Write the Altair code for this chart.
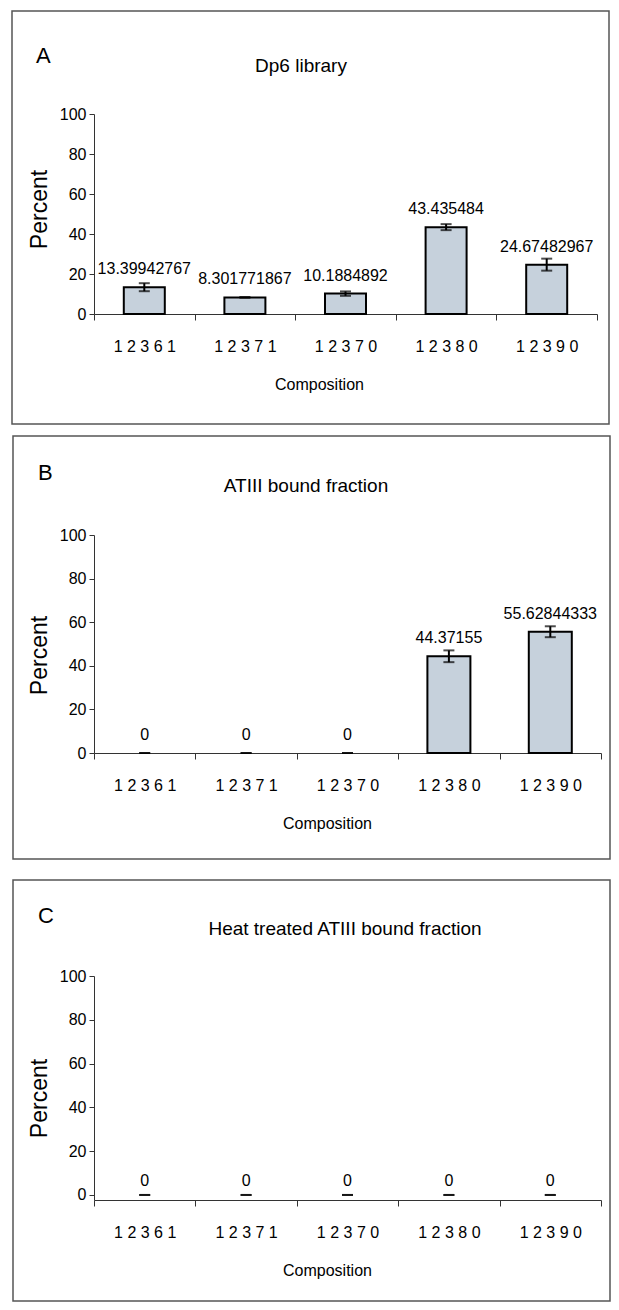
import altair as alt
import pandas as pd

# ---------------- data ----------------
categories = ["1 2 3 6 1", "1 2 3 7 1", "1 2 3 7 0", "1 2 3 8 0", "1 2 3 9 0"]

dp6_values = [13.39942767, 8.301771867, 10.1884892, 43.435484, 24.67482967]
dp6_errors = [2.0, 0.2, 1.1, 1.5, 3.0]

atiii_values = [0, 0, 0, 44.37155, 55.62844333]
atiii_errors = [0, 0, 0, 2.7, 2.5]

heat_values = [0, 0, 0, 0, 0]
heat_errors = [0, 0, 0, 0, 0]

y_ticks = [0, 20, 40, 60, 80, 100]

FONT = "Liberation Sans"
BAR_FILL = "#c6d1dc"
AXIS_COLOR = "#333333"


def panel(letter, title, values, errors, g):
    df = pd.DataFrame({
        "cat": categories,
        "value": values,
        "lo": [v - e for v, e in zip(values, errors)],
        "hi": [v + e for v, e in zip(values, errors)],
        "label": [str(v) for v in values],
    })
    base = alt.Chart(df)

    x_enc = alt.X(
        "cat:N", sort=categories, title="Composition",
        scale=alt.Scale(paddingInner=0, paddingOuter=0),
        axis=alt.Axis(
            labelAngle=0, tickBand="extent", tickSize=6, tickColor=AXIS_COLOR,
            domainColor=AXIS_COLOR, labelFont=FONT, labelFontSize=16,
            labelColor="black", labelPadding=18, titleFont=FONT,
            titleFontSize=16, titleFontWeight="normal", titleColor="black",
            titlePadding=22, titleX=g["xtx"],
        ),
    )
    y_scale = alt.Scale(domain=[g["ymin"], 100], nice=False, zero=False)
    y_axis = alt.Axis(
        values=y_ticks, tickSize=5, tickColor=AXIS_COLOR, domainColor=AXIS_COLOR,
        labelFont=FONT, labelFontSize=16, labelColor="black", labelPadding=3,
        titleFont=FONT, titleFontSize=23, titleFontWeight="normal",
        titleColor="black", titlePadding=8, titleY=g["yty"], grid=False,
    )

    slot = alt.Chart(alt.Data(values=[{}])).mark_rect(
        fill="white", fillOpacity=0
    ).encode(
        x=alt.value(g["fx1"]), x2=alt.value(g["fx2"]),
        y=alt.value(g["fy1"]), y2=alt.value(g["slot_bottom"]),
    )
    frame = alt.Chart(alt.Data(values=[{}])).mark_rect(
        fillOpacity=0, stroke="#555555", strokeWidth=1.5
    ).encode(
        x=alt.value(g["fx1"]), x2=alt.value(g["fx2"]),
        y=alt.value(g["fy1"]), y2=alt.value(g["fy2"]),
    )

    bars = base.transform_filter("datum.value > 0").mark_bar(
        size=g["bar"], fill=BAR_FILL, stroke="black", strokeWidth=2
    ).encode(
        x=x_enc,
        y=alt.Y("value:Q", scale=y_scale, axis=y_axis, title="Percent"),
    )
    err = base.mark_rule(color="black", strokeWidth=2).encode(
        x=x_enc,
        y=alt.Y("lo:Q", scale=y_scale, axis=y_axis, title="Percent"),
        y2="hi:Q",
    )
    cap_lo = base.mark_tick(color="black", size=11, thickness=2).encode(
        x=x_enc, y=alt.Y("lo:Q", scale=y_scale, axis=y_axis, title="Percent"),
    )
    cap_hi = base.mark_tick(color="black", size=11, thickness=2).encode(
        x=x_enc, y=alt.Y("hi:Q", scale=y_scale, axis=y_axis, title="Percent"),
    )
    labels = base.mark_text(
        font=FONT, fontSize=16, color="black", baseline="alphabetic",
        dy=g["ldy"],
    ).encode(
        x=x_enc,
        y=alt.Y("value:Q", scale=y_scale, axis=y_axis, title="Percent"),
        text="label:N",
    )
    letter_mark = alt.Chart(alt.Data(values=[{}])).mark_text(
        font=FONT, fontSize=22, color="black", align="left",
        baseline="alphabetic",
    ).encode(x=alt.value(g["lx"]), y=alt.value(g["ly"]), text=alt.value(letter))
    title_mark = alt.Chart(alt.Data(values=[{}])).mark_text(
        font=FONT, fontSize=19, color="black", align="center",
        baseline="alphabetic",
    ).encode(x=alt.value(g["tx"]), y=alt.value(g["ty"]), text=alt.value(title))

    return alt.layer(
        slot, frame, bars, err, cap_lo, cap_hi, labels, letter_mark, title_mark
    ).properties(width=g["w"], height=g["h"])


geo_a = dict(w=503, h=200, ymin=0, bar=41, ldy=-13, xtx=225, yty=95,
             fx1=-82, fx2=515, fy1=-103, fy2=310, slot_bottom=321,
             lx=-58, ly=-51, tx=207, ty=-42)
geo_b = dict(w=507, h=218, ymin=0, bar=43, ldy=-13, xtx=233, yty=120,
             fx1=-81, fx2=516, fy1=-99, fy2=324, slot_bottom=344,
             lx=-56, ly=-55, tx=212, ty=-43)
geo_c = dict(w=507, h=224, ymin=-2.3, bar=43, ldy=-9, xtx=233, yty=122,
             fx1=-81, fx2=516, fy1=-96, fy2=325, slot_bottom=326,
             lx=-56, ly=-53, tx=251, ty=-41)

chart = alt.vconcat(
    panel("A", "Dp6 library", dp6_values, dp6_errors, geo_a),
    panel("B", "ATIII bound fraction", atiii_values, atiii_errors, geo_b),
    panel("C", "Heat treated ATIII bound fraction", heat_values, heat_errors, geo_c),
    spacing=0,
).properties(
    padding={"left": 3, "top": 2, "right": 0, "bottom": 0},
    background="white",
).configure_view(stroke=None)

chart.save("out.html", embed_options={"renderer": "svg", "actions": False})
